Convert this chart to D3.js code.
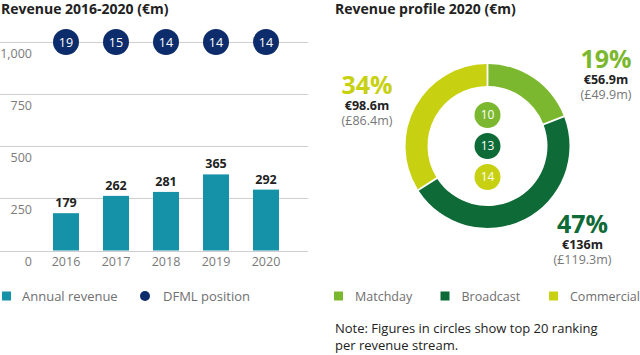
<!DOCTYPE html>
<html>
<head>
<meta charset="utf-8">
<script src="https://cdn.jsdelivr.net/npm/d3@7"></script>
<style>
  html, body { margin: 0; padding: 0; background: #fff; }
  svg { display: block; font-family: "Open Sans", sans-serif; }
</style>
</head>
<body>
<svg id="chart" width="640" height="355"></svg>
<script>
// ---- Data ----
const years = ["2016", "2017", "2018", "2019", "2020"];
const revenue = [179, 262, 281, 365, 292];
const dfmlPosition = [19, 15, 14, 14, 14];
const yTicks = [0, 250, 500, 750, 1000];

const streams = ["Matchday", "Broadcast", "Commercial"];
const streamShare = [19, 47, 34];
const streamEur = ["€56.9m", "€136m", "€98.6m"];
const streamGbp = ["(£49.9m)", "(£119.3m)", "(£86.4m)"];
const streamRank = [10, 13, 14];
const streamColors = ["#7cb82f", "#0e6a37", "#c7d112"];

const svg = d3.select("#chart");

// ---- Left: bar chart ----
const left = svg.append("g");
left.append("text").attr("x", 1).attr("y", 14)
  .attr("font-size", 14).attr("font-weight", 700).attr("fill", "#222")
  .text("Revenue 2016-2020 (€m)");

const y = d3.scaleLinear().domain([0, 1000]).range([250.5, 42]);
const x = d3.scaleBand().domain(years).range([41, 291]).paddingInner(0.48).paddingOuter(0.24);

const yAxis = d3.axisLeft(y).tickValues(yTicks).tickSize(0).tickFormat(d3.format(","));
const yg = left.append("g").attr("transform", "translate(32,0)").call(yAxis);
yg.select(".domain").remove();
yg.selectAll("text").attr("font-size", 12.5).attr("fill", "#7a7a7a")
  .attr("font-family", "Open Sans").attr("x", 0).attr("dy", 0)
  .attr("transform", "translate(0,15)").attr("text-anchor", "end");

left.append("g").selectAll("line").data(yTicks).join("line")
  .attr("x1", 0).attr("x2", 308)
  .attr("y1", d => Math.round(y(d)) + 0.5).attr("y2", d => Math.round(y(d)) + 0.5)
  .attr("stroke", "#cfcfcf").attr("stroke-width", 1);

const xAxis = d3.axisBottom(x).tickSize(0);
const xg = left.append("g").attr("transform", "translate(0,251)").call(xAxis);
xg.select(".domain").remove();
xg.selectAll("text").attr("font-size", 12.5).attr("fill", "#7a7a7a")
  .attr("font-family", "Open Sans").attr("y", 15).attr("dy", 0);

left.append("g").selectAll("rect").data(revenue).join("rect")
  .attr("x", (d, i) => x(years[i])).attr("width", x.bandwidth())
  .attr("y", d => y(d)).attr("height", d => y(0) - y(d))
  .attr("fill", "#1692a8");

left.append("g").selectAll("text").data(revenue).join("text")
  .attr("x", (d, i) => x(years[i]) + x.bandwidth() / 2)
  .attr("y", d => y(d) - 6)
  .attr("text-anchor", "middle").attr("font-size", 12.5).attr("font-weight", 700)
  .attr("fill", "#222").text(d => d);

const pos = left.append("g").selectAll("g").data(dfmlPosition).join("g")
  .attr("transform", (d, i) => `translate(${x(years[i]) + x.bandwidth() / 2},${y(1000)})`);
pos.append("circle").attr("r", 13).attr("fill", "#0d2c6b");
pos.append("text").attr("text-anchor", "middle").attr("dy", "0.36em")
  .attr("font-size", 12.5).attr("fill", "#fff").text(d => d);

// left legend
const ll = left.append("g");
ll.append("rect").attr("x", 2).attr("y", 291.5).attr("width", 9).attr("height", 9).attr("fill", "#1692a8");
ll.append("text").attr("x", 22).attr("y", 300.5).attr("font-size", 13).attr("fill", "#6f6f6f").text("Annual revenue");
ll.append("circle").attr("cx", 145).attr("cy", 296).attr("r", 5).attr("fill", "#0d2c6b");
ll.append("text").attr("x", 163).attr("y", 300.5).attr("font-size", 13).attr("fill", "#6f6f6f").text("DFML position");

// ---- Right: donut ----
const right = svg.append("g");
right.append("text").attr("x", 335).attr("y", 14)
  .attr("font-size", 14).attr("font-weight", 700).attr("fill", "#222")
  .text("Revenue profile 2020 (€m)");

const cx = 487.5, cy = 146;
const pie = d3.pie().sort(null).value(d => d).padAngle(0.018);
const arc = d3.arc().innerRadius(60).outerRadius(82);
right.append("g").attr("transform", `translate(${cx},${cy})`)
  .selectAll("path").data(pie(streamShare)).join("path")
  .attr("d", arc).attr("fill", (d, i) => streamColors[i]);

const rankY = d3.scalePoint().domain(streams).range([cy - 31, cy + 31]);
const rk = right.append("g").selectAll("g").data(streamRank).join("g")
  .attr("transform", (d, i) => `translate(${cx},${rankY(streams[i])})`);
rk.append("circle").attr("r", 13).attr("fill", (d, i) => streamColors[i]);
rk.append("text").attr("text-anchor", "middle").attr("dy", "0.36em")
  .attr("font-size", 12).attr("fill", "#fff").text(d => d);

// annotation positions (x center, baseline of percentage)
const labelPos = [[606, 68], [582.5, 233], [367, 94]];
const lab = right.append("g").selectAll("g").data(streams).join("g")
  .attr("transform", (d, i) => `translate(${labelPos[i][0]},${labelPos[i][1]})`)
  .attr("text-anchor", "middle");
lab.append("text").attr("font-size", 25).attr("font-weight", 700)
  .attr("fill", (d, i) => streamColors[i]).text((d, i) => streamShare[i] + "%");
lab.append("text").attr("y", 15.5).attr("font-size", 12.5).attr("font-weight", 700)
  .attr("fill", "#222").text((d, i) => streamEur[i]);
lab.append("text").attr("y", 31).attr("font-size", 12.5)
  .attr("fill", "#777").text((d, i) => streamGbp[i]);

// right legend
const legX = [334, 440.5, 549];
const rl = right.append("g").selectAll("g").data(streams).join("g")
  .attr("transform", (d, i) => `translate(${legX[i]},0)`);
rl.append("rect").attr("y", 291.5).attr("width", 9).attr("height", 9).attr("fill", (d, i) => streamColors[i]);
rl.append("text").attr("x", 21).attr("y", 300.5).attr("font-size", 12.5).attr("fill", "#6f6f6f").text(d => d);

// note
const note = right.append("text").attr("x", 335).attr("font-size", 13).attr("fill", "#222");
note.append("tspan").attr("x", 335).attr("y", 333).text("Note: Figures in circles show top 20 ranking");
note.append("tspan").attr("x", 335).attr("y", 350).text("per revenue stream.");
</script>
</body>
</html>
